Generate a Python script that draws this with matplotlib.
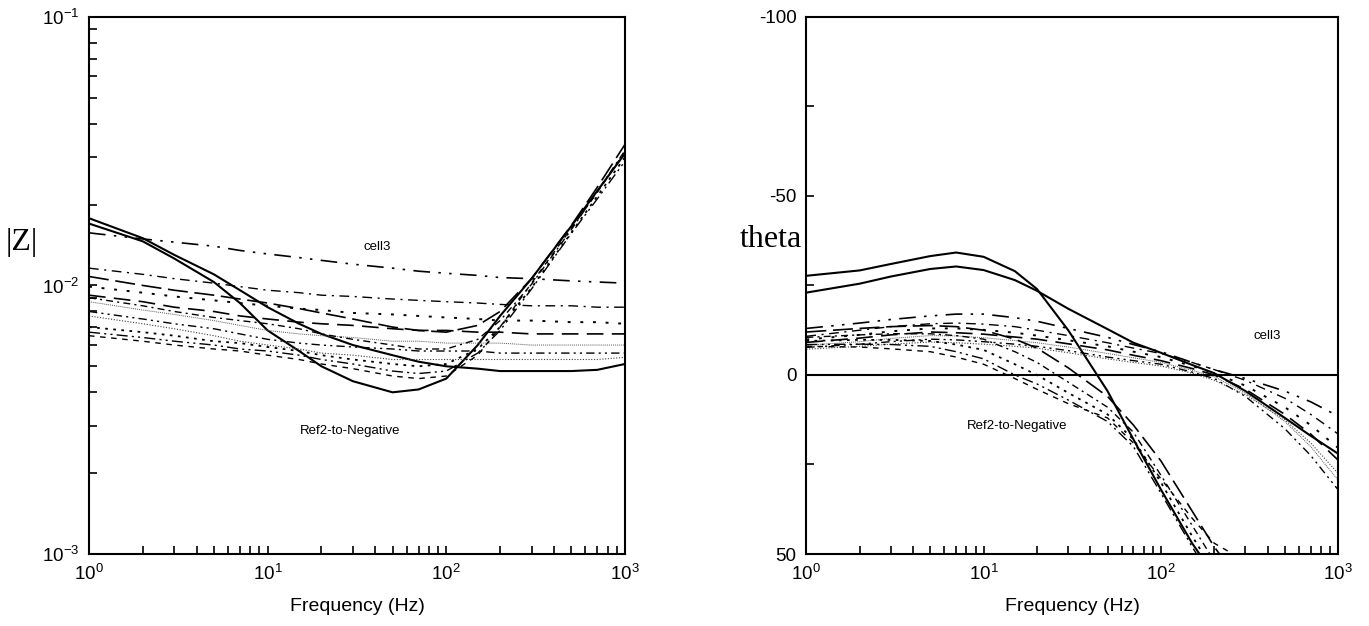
import numpy as np
import matplotlib
matplotlib.use("Agg")
import matplotlib.pyplot as plt
from matplotlib.ticker import LogLocator, MultipleLocator, NullFormatter

plt.rcParams['font.family'] = ['Liberation Sans', 'DejaVu Sans']
plt.rcParams['mathtext.fontset'] = 'custom'
plt.rcParams['mathtext.rm'] = 'Liberation Sans'
plt.rcParams['mathtext.it'] = 'Liberation Sans:italic'
plt.rcParams['axes.unicode_minus'] = False

# frequency grid (Hz)
freq = [1, 2, 3, 5, 7, 10, 15, 20, 30, 50, 70, 100, 150, 200, 300, 500, 700, 1000]

# |Z| -- Ref2-to-Negative pair
zmag_ref_a = [0.0178, 0.0150, 0.0130, 0.0110, 0.0096, 0.0083, 0.0072, 0.0066, 0.0060,
              0.0055, 0.0052, 0.0050, 0.0049, 0.0048, 0.0048, 0.0048, 0.00485, 0.0051]
zmag_ref_b = [0.0170, 0.0146, 0.0126, 0.0103, 0.0086, 0.0068, 0.0057, 0.0050, 0.0044,
              0.0040, 0.0041, 0.0045, 0.0060, 0.0077, 0.0106, 0.0166, 0.0225, 0.0310]

# |Z| -- cells with flat high-frequency tail
zmag_cell3 = [0.0157, 0.0149, 0.0145, 0.0140, 0.0135, 0.0131, 0.0127, 0.0124, 0.0120,
              0.0116, 0.0113, 0.0111, 0.0109, 0.0107, 0.0106, 0.0104, 0.0103, 0.0102]
zmag_h2 = [0.0116, 0.0110, 0.0106, 0.0102, 0.0099, 0.0096, 0.0094, 0.0092, 0.0091,
           0.0089, 0.0088, 0.0087, 0.0086, 0.0085, 0.0084, 0.0084, 0.0083, 0.0083]
zmag_h3 = [0.0099, 0.0094, 0.0091, 0.0088, 0.0086, 0.0084, 0.0082, 0.0081, 0.0079,
           0.0078, 0.0077, 0.0076, 0.0075, 0.0074, 0.0074, 0.0073, 0.0073, 0.0072]
zmag_h4 = [0.0092, 0.0087, 0.0083, 0.0080, 0.0077, 0.0075, 0.0073, 0.0072, 0.0071,
           0.0069, 0.0068, 0.0068, 0.0067, 0.0067, 0.0066, 0.0066, 0.0066, 0.0066]
zmag_h5 = [0.0087, 0.0081, 0.0078, 0.0074, 0.0071, 0.0068, 0.0066, 0.0065, 0.0064,
           0.0062, 0.0062, 0.0061, 0.0061, 0.0061, 0.0060, 0.0060, 0.0060, 0.0060]
zmag_h6 = [0.0080, 0.0075, 0.0072, 0.0069, 0.0066, 0.0063, 0.0061, 0.0060, 0.0059,
           0.0058, 0.0057, 0.0057, 0.0057, 0.0056, 0.0056, 0.0056, 0.0056, 0.0056]
zmag_h7 = [0.0077, 0.0072, 0.0069, 0.0065, 0.0062, 0.0060, 0.0058, 0.0056, 0.0055,
           0.0053, 0.0053, 0.0053, 0.0053, 0.0053, 0.0053, 0.0053, 0.0053, 0.0054]

# |Z| -- cells rising above ~100 Hz
zmag_r1 = [0.0108, 0.0100, 0.0096, 0.0092, 0.0089, 0.0086, 0.0082, 0.0079, 0.0075,
           0.0070, 0.0068, 0.0067, 0.0071, 0.0080, 0.0106, 0.0167, 0.0232, 0.0335]
zmag_r2 = [0.0090, 0.0084, 0.0080, 0.0076, 0.0074, 0.0072, 0.0069, 0.0066, 0.0063,
           0.0060, 0.0058, 0.0058, 0.0063, 0.0074, 0.0101, 0.0161, 0.0224, 0.0318]
zmag_r3 = [0.0070, 0.0067, 0.0065, 0.0062, 0.0061, 0.0059, 0.0057, 0.0055, 0.0053,
           0.0051, 0.0050, 0.0051, 0.0058, 0.0070, 0.0098, 0.0157, 0.0215, 0.0300]
zmag_r4 = [0.0067, 0.0064, 0.0062, 0.0060, 0.0058, 0.0057, 0.0055, 0.0053, 0.0051,
           0.0048, 0.0047, 0.0048, 0.0056, 0.0068, 0.0097, 0.0156, 0.0210, 0.0290]
zmag_r5 = [0.0065, 0.0062, 0.0060, 0.0058, 0.0057, 0.0055, 0.0053, 0.0051, 0.0049,
           0.0046, 0.0045, 0.0046, 0.0055, 0.0070, 0.0102, 0.0163, 0.0222, 0.0315]

# theta (deg) -- same curves
theta_ref_b = [-27.7, -29.2, -31.0, -33.2, -34.2, -33.0, -29.0, -24.0, -12.5,
               4.5, 18.0, 32.0, 47.0, 56.0, 62.0, 66.0, 68.0, 70.0]
theta_ref_a = [-23.0, -25.5, -27.5, -29.6, -30.3, -29.3, -26.5, -23.5, -18.5,
               -12.8, -9.0, -6.2, -2.8, -0.5, 4.5, 12.0, 17.0, 22.0]
theta_cell3 = [-13.0, -14.5, -15.5, -16.5, -17.0, -17.0, -16.0, -15.0, -13.0,
               -10.5, -8.5, -6.5, -3.5, -1.5, 1.0, 4.5, 7.5, 11.5]
theta_h2 = [-10.8, -12.5, -13.5, -14.3, -14.5, -14.2, -13.5, -12.5, -11.0,
            -9.0, -7.5, -6.0, -3.5, -1.5, 1.5, 6.5, 11.0, 16.5]
theta_h3 = [-9.9, -11.2, -12.2, -13.0, -13.0, -12.6, -11.8, -11.0, -9.7,
            -8.0, -6.5, -5.0, -2.5, -0.5, 3.0, 9.0, 14.0, 20.4]
theta_h4 = [-9.1, -10.3, -11.2, -12.0, -11.8, -11.4, -10.6, -10.0, -8.7,
            -7.0, -5.5, -4.0, -1.8, 0.0, 4.0, 11.0, 16.5, 23.8]
theta_h5 = [-8.3, -9.3, -10.2, -11.0, -10.9, -10.4, -9.6, -9.0, -7.8,
            -6.0, -4.8, -3.5, -1.3, 0.5, 5.0, 13.0, 20.0, 29.4]
theta_h6 = [-7.7, -8.6, -9.3, -10.0, -9.8, -9.3, -8.6, -8.0, -6.8,
            -5.0, -4.0, -3.0, -0.8, 1.0, 6.0, 15.0, 22.5, 32.1]
theta_h7 = [-7.2, -8.0, -8.6, -9.2, -9.0, -8.6, -8.0, -7.5, -6.2,
            -4.5, -3.5, -2.5, -0.5, 1.5, 5.5, 12.5, 19.0, 27.5]
theta_r1 = [-12.0, -13.0, -13.5, -13.8, -13.5, -12.5, -10.0, -7.5, -2.0,
            6.0, 14.0, 24.0, 38.0, 48.0, 60.0, 70.0, 74.0, 78.0]
theta_r2 = [-10.5, -11.2, -11.5, -11.5, -11.0, -10.0, -6.5, -3.5, 2.0,
            9.0, 16.0, 28.0, 42.0, 52.0, 62.0, 70.0, 74.0, 78.0]
theta_r3 = [-9.5, -9.8, -9.8, -9.5, -8.5, -7.0, -3.0, 0.0, 5.0,
            11.0, 18.0, 30.0, 45.0, 55.0, 64.0, 70.0, 74.0, 78.0]
theta_r4 = [-8.5, -8.6, -8.5, -8.0, -6.5, -4.5, 0.0, 2.5, 7.0,
            13.0, 20.0, 33.0, 48.0, 58.0, 66.0, 72.0, 75.0, 78.0]
theta_r5 = [-8.0, -7.8, -7.3, -6.5, -5.0, -3.0, 1.0, 4.0, 8.0,
            12.0, 19.0, 29.0, 40.0, 47.0, 52.0, 60.0, 66.0, 72.0]

# (|Z| series, theta series, linestyle, linewidth, colour)
curves = [
    (zmag_ref_a, theta_ref_a, '-', 1.5, 'black'),
    (zmag_ref_b, theta_ref_b, '-', 1.5, 'black'),
    (zmag_cell3, theta_cell3, (0, (10, 5, 1.5, 5, 1.5, 5)), 1.2, 'black'),
    (zmag_h2, theta_h2, (0, (7, 4, 1.5, 4)), 1.0, 'black'),
    (zmag_h3, theta_h3, (0, (1.5, 5)), 1.4, 'black'),
    (zmag_h4, theta_h4, (0, (10, 5)), 1.2, 'black'),
    (zmag_h5, theta_h5, (0, (1, 1)), 0.7, '0.35'),
    (zmag_h6, theta_h6, (0, (6, 3, 1.5, 3, 1.5, 3)), 1.0, 'black'),
    (zmag_h7, theta_h7, (0, (1, 1.5)), 0.8, '0.25'),
    (zmag_r1, theta_r1, (0, (12, 4)), 1.2, 'black'),
    (zmag_r2, theta_r2, (0, (5, 3, 1.5, 3)), 1.0, 'black'),
    (zmag_r3, theta_r3, (0, (1.5, 3)), 1.3, 'black'),
    (zmag_r4, theta_r4, (0, (8, 3, 1.5, 3, 1.5, 3)), 1.0, 'black'),
    (zmag_r5, theta_r5, (0, (4, 4)), 1.0, 'black'),
]


def style_axis(ax):
    for s in ax.spines.values():
        s.set_linewidth(1.5)
    ax.tick_params(which='both', direction='in', top=False, right=False,
                   width=1.2, labelsize=13.5, colors='black')
    ax.tick_params(which='major', length=6, pad=7)
    ax.tick_params(which='minor', length=6)
    ax.set_xscale('log')
    ax.set_xlim(1, 1000)
    ax.xaxis.set_major_locator(LogLocator(base=10, numticks=10))
    ax.xaxis.set_minor_locator(LogLocator(base=10, subs=np.arange(2, 10), numticks=10))
    ax.xaxis.set_minor_formatter(NullFormatter())
    ax.set_xlabel('Frequency (Hz)', fontsize=14, labelpad=10)


fig = plt.figure(figsize=(13.69, 6.26), dpi=100)
ax1 = fig.add_axes([0.065, 0.115, 0.3915, 0.858])
ax2 = fig.add_axes([0.589, 0.115, 0.3885, 0.858])

# magnitude panel
for zm, th, ls, lw, col in curves:
    ax1.plot(freq, zm, linestyle=ls, linewidth=lw, color=col)
ax1.set_yscale('log')
ax1.set_ylim(1e-3, 1e-1)
ax1.yaxis.set_major_locator(LogLocator(base=10, numticks=10))
ax1.yaxis.set_minor_locator(LogLocator(base=10, subs=np.arange(2, 10), numticks=10))
ax1.yaxis.set_minor_formatter(NullFormatter())
style_axis(ax1)
ax1.text(41, 0.0139, 'cell3', fontsize=9.5, ha='center', va='center')
ax1.text(29, 0.00288, 'Ref2-to-Negative', fontsize=9.5, ha='center', va='center')
fig.text(0.016, 0.612, '|Z|', fontsize=23, family='Liberation Serif',
         ha='center', va='center')

# phase panel
for zm, th, ls, lw, col in curves:
    ax2.plot(freq, th, linestyle=ls, linewidth=lw, color=col)
ax2.axhline(0, color='black', linewidth=1.5)
ax2.set_ylim(50, -100)
ax2.yaxis.set_major_locator(MultipleLocator(50))
ax2.yaxis.set_minor_locator(MultipleLocator(25))
style_axis(ax2)
ax2.text(400, -10.8, 'cell3', fontsize=9.5, ha='center', va='center')
ax2.text(15.5, 14.3, 'Ref2-to-Negative', fontsize=9.5, ha='center', va='center')
fig.text(0.563, 0.617, 'theta', fontsize=23, family='Liberation Serif',
         ha='center', va='center')

fig.savefig('out.png', dpi=100)
